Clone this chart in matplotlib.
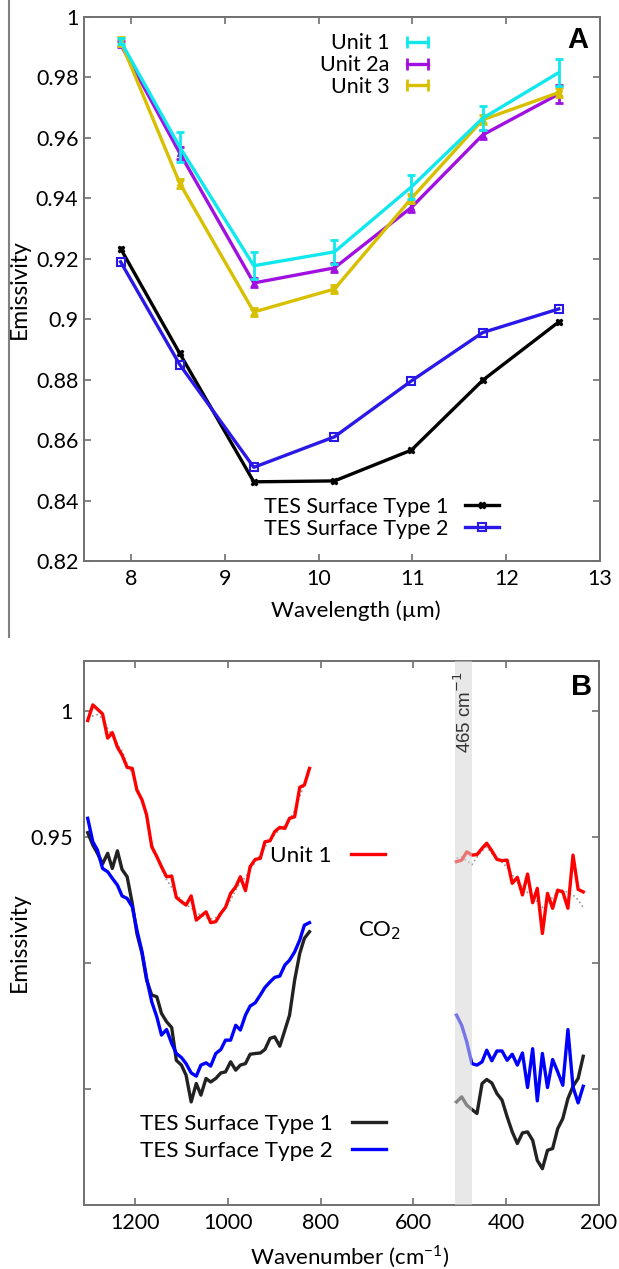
import numpy as np
import matplotlib
matplotlib.use("Agg")
import matplotlib.pyplot as plt
from matplotlib.lines import Line2D
from matplotlib.ticker import FuncFormatter

plt.rcParams['font.family'] = ['Lato', 'DejaVu Sans']

# ---- panel A data (band centres, um) ----
wavelength = [7.89, 8.52, 9.31, 10.17, 10.99, 11.75, 12.56]
unit1 = [0.992, 0.957, 0.9177, 0.9223, 0.9438, 0.9665, 0.9816]
unit1_err = [0.001, 0.005, 0.0045, 0.004, 0.004, 0.004, 0.0045]
unit2a = [0.991, 0.955, 0.912, 0.917, 0.937, 0.961, 0.9745]
unit2a_err = [0.001, 0.002, 0.0015, 0.0015, 0.0015, 0.0015, 0.003]
unit3 = [0.992, 0.945, 0.9024, 0.910, 0.940, 0.966, 0.975]
unit3_err = [0.0015, 0.0015, 0.0012, 0.0012, 0.0015, 0.0015, 0.0015]
tes1_a = [0.9234, 0.8887, 0.8462, 0.8465, 0.8567, 0.8798, 0.8991]
tes2_a = [0.919, 0.885, 0.851, 0.8611, 0.8796, 0.8956, 0.9034]

# ---- panel B data (TES spectra) ----
wn_left = [1302, 1291, 1281, 1270, 1259, 1249, 1238, 1228, 1217, 1206, 1196, 1185,
           1175, 1164, 1153, 1143, 1132, 1121, 1111, 1100, 1090, 1079, 1068, 1058,
           1047, 1037, 1026, 1015, 1005, 994, 983, 973, 962, 952, 941, 930, 920,
           909, 899, 888, 877, 867, 856, 845, 835, 824]
wn_right = [507, 496, 485, 474, 463, 452, 442, 431, 420, 409, 398, 387, 376, 365,
            354, 343, 333, 322, 311, 300, 289, 278, 267, 256, 245, 234]

red_left = [0.9962, 1.0024, 1.0007, 0.9988, 0.9892, 0.9914, 0.9856, 0.9825, 0.9776,
            0.9772, 0.9686, 0.9647, 0.9587, 0.9461, 0.9422, 0.9382, 0.9342, 0.9345,
            0.9260, 0.9243, 0.9230, 0.9266, 0.9170, 0.9186, 0.9203, 0.9160, 0.9164,
            0.9197, 0.9221, 0.9276, 0.9302, 0.9342, 0.9287, 0.9382, 0.9411, 0.9415,
            0.9481, 0.9485, 0.9521, 0.9538, 0.9534, 0.9574, 0.9580, 0.9697, 0.9706,
            0.9772]
red_right = [0.9402, 0.9408, 0.9441, 0.9428, 0.9430, 0.9455, 0.9475, 0.9445, 0.9411,
             0.9406, 0.9408, 0.9316, 0.9340, 0.9270, 0.9353, 0.9239, 0.9296, 0.9117,
             0.9276, 0.9217, 0.9289, 0.9282, 0.9217, 0.9428, 0.9292, 0.9282]
model_left = [0.9975, 0.998, 0.9985, 0.997, 0.993, 0.990, 0.987, 0.984, 0.979, 0.975,
              0.970, 0.965, 0.957, 0.948, 0.942, 0.937, 0.933, 0.930, 0.927, 0.925,
              0.923, 0.922, 0.920, 0.919, 0.918, 0.9175, 0.918, 0.920, 0.922, 0.925,
              0.929, 0.932, 0.934, 0.937, 0.940, 0.943, 0.946, 0.949, 0.951, 0.953,
              0.9545, 0.957, 0.9605, 0.966, 0.971, 0.976]
model_right = [0.9415, 0.942, 0.9405, 0.939, 0.942, 0.9445, 0.946, 0.9435, 0.942,
               0.940, 0.938, 0.935, 0.932, 0.930, 0.928, 0.927, 0.924, 0.922, 0.924,
               0.926, 0.928, 0.929, 0.928, 0.927, 0.925, 0.922]
blue_left = [0.9574, 0.9481, 0.9448, 0.9375, 0.9362, 0.9336, 0.9309, 0.9266, 0.9256,
             0.9223, 0.9131, 0.9045, 0.8939, 0.8846, 0.8786, 0.8714, 0.8736, 0.8681,
             0.8641, 0.8625, 0.8601, 0.8564, 0.8551, 0.8595, 0.8604, 0.8591, 0.8641,
             0.8657, 0.8694, 0.8694, 0.8753, 0.8734, 0.8793, 0.8829, 0.8842, 0.8873,
             0.8903, 0.8925, 0.8943, 0.8948, 0.8992, 0.9011, 0.9044, 0.9091, 0.9150,
             0.9160]
blue_right = [0.8793, 0.8753, 0.8687, 0.8601, 0.8595, 0.8608, 0.8654, 0.8612, 0.8651,
              0.8651, 0.8614, 0.8638, 0.8595, 0.8643, 0.8506, 0.8660, 0.8453, 0.8641,
              0.8506, 0.8617, 0.8568, 0.8515, 0.8736, 0.8508, 0.8445, 0.8511]
black_left = [0.9517, 0.9468, 0.9435, 0.9393, 0.9435, 0.9375, 0.9445, 0.9371, 0.9342,
              0.9237, 0.9117, 0.9038, 0.8932, 0.8873, 0.8866, 0.8800, 0.8767, 0.8744,
              0.8614, 0.8595, 0.8555, 0.8449, 0.8522, 0.8476, 0.8542, 0.8528, 0.8542,
              0.8564, 0.8568, 0.8608, 0.8575, 0.8595, 0.8601, 0.8638, 0.8641, 0.8643,
              0.8657, 0.8701, 0.8707, 0.8670, 0.8734, 0.8793, 0.8932, 0.9038, 0.9098,
              0.9124]
black_right = [0.8449, 0.8469, 0.8436, 0.8419, 0.8403, 0.8522, 0.8538, 0.8524, 0.8482,
               0.8456, 0.8390, 0.8330, 0.8284, 0.8326, 0.8330, 0.8297, 0.8217, 0.8184,
               0.8257, 0.8264, 0.8343, 0.8383, 0.8462, 0.8511, 0.8542, 0.8630]
band = (473, 510)

SPINE = '#707070'
FS = 15.5

fig = plt.figure(figsize=(6.19, 12.69), dpi=100)
axA = fig.add_axes([84/619, 1-561/1269, 516/619, 544/1269])
axB = fig.add_axes([84/619, 1-1205/1269, 515/619, 544/1269])

for ax in (axA, axB):
    for s in ax.spines.values():
        s.set_color(SPINE)
        s.set_linewidth(1.4)
    ax.tick_params(direction='in', top=True, right=True, length=5, width=1.2,
                   color=SPINE, labelsize=FS, pad=6)

# ---------------- Panel A ----------------
axA.plot(wavelength, tes1_a, color='black', lw=2.4, marker='X', ms=5, zorder=3)
axA.plot(wavelength, tes2_a, color='#2a18e8', lw=2.4, marker='s', ms=6,
         mfc='none', mew=1.5, zorder=3)
axA.errorbar(wavelength, unit2a, yerr=unit2a_err, color='#a010e0', lw=2.4,
             elinewidth=2, capsize=3, capthick=2, marker='^', ms=4, zorder=4)
axA.errorbar(wavelength, unit3, yerr=unit3_err, color='#d8c000', lw=2.4,
             elinewidth=2, capsize=3, capthick=2, marker='x', ms=4, mew=2, zorder=5)
axA.errorbar(wavelength, unit1, yerr=unit1_err, color='#10e8ee', lw=2.4,
             elinewidth=2, capsize=3, capthick=2, zorder=6)

axA.set_xlim(7.5, 13)
axA.set_ylim(0.82, 1.0)
axA.set_xticks([8, 9, 10, 11, 12, 13])
axA.set_yticks(np.arange(0.82, 1.001, 0.02))
axA.yaxis.set_major_formatter(FuncFormatter(lambda v, p: '%g' % round(v, 2)))
axA.tick_params(axis='y', pad=4)
axA.set_xlabel('Wavelength (µm)', fontsize=16)
axA.xaxis.set_label_coords(0.527, -0.072)
axA.set_ylabel('Emissivity', fontsize=16.5)
axA.yaxis.set_label_coords(-0.105, 0.5)
axA.text(0.957, 0.958, 'A', transform=axA.transAxes, fontsize=21,
         fontweight='bold', family=['Liberation Sans', 'DejaVu Sans'],
         ha='center', va='center')

hU = [Line2D([], [], color=c, lw=2.4, marker='|', ms=8, mew=2)
      for c in ('#10e8ee', '#a010e0', '#d8c000')]
legU = axA.legend(hU, ['Unit 1', 'Unit 2a', 'Unit 3'], loc='upper right',
                  bbox_to_anchor=(0.680, 0.970), frameon=False, markerfirst=False,
                  numpoints=2, fontsize=FS, handlelength=1.6, handletextpad=0.5,
                  labelspacing=0.08, borderpad=0, borderaxespad=0)
axA.add_artist(legU)
hT = [Line2D([], [], color='black', lw=2.4, marker='X', ms=5),
      Line2D([], [], color='#2a18e8', lw=2.4, marker='s', ms=6, mfc='none', mew=1.5)]
axA.legend(hT, ['TES Surface Type 1', 'TES Surface Type 2'], loc='upper right',
           bbox_to_anchor=(0.804, 0.118), frameon=False, markerfirst=False,
           numpoints=1, fontsize=FS, handlelength=1.55, handletextpad=0.8,
           labelspacing=0.08, borderpad=0, borderaxespad=0)

# left border line of panel A
fig.add_artist(Line2D([9/619, 9/619], [1.0, 1-637/1269], color='#808080', lw=1.5))

# ---------------- Panel B ----------------
axB.plot(wn_left, model_left, color='#999999', ls=':', lw=1.2, zorder=2)
axB.plot(wn_right, model_right, color='#999999', ls=':', lw=1.2, zorder=2)
axB.plot(wn_left, black_left, color='#222222', lw=2.4, zorder=2)
axB.plot(wn_right, black_right, color='#222222', lw=2.4, zorder=2)
axB.plot(wn_left, blue_left, color='#0000ff', lw=2.4, zorder=2)
axB.plot(wn_right, blue_right, color='#0000ff', lw=2.4, zorder=2)
axB.plot(wn_left, red_left, color='#ff0000', lw=2.4, zorder=2)
axB.plot(wn_right, red_right, color='#ff0000', lw=2.4, zorder=2)
axB.axvspan(band[0], band[1], color='#d6d6d6', alpha=0.55, lw=0, zorder=3)
axB.text(sum(band)/2, 0.9995, '465 cm$^{-1}$', rotation=90, ha='center', va='center',
         fontsize=13.5, color='#333333', family=['Liberation Sans', 'DejaVu Sans'],
         zorder=4)
axB.text(672, 0.913, 'CO$_2$', ha='center', va='center', fontsize=16)

axB.set_xlim(1310, 200)
axB.set_ylim(0.804, 1.0198)
axB.set_xticks([1200, 1000, 800, 600, 400, 200])
axB.set_yticks([0.85, 0.9, 0.95, 1.0])
axB.set_yticklabels(['', '', '0.95', '1'])
axB.tick_params(axis='y', pad=8)
axB.set_xlabel('Wavenumber (cm$^{\\mathregular{-1}}$)', fontsize=16)
axB.xaxis.set_label_coords(0.515, -0.071)
axB.set_ylabel('Emissivity', fontsize=16.5)
axB.yaxis.set_label_coords(-0.105, 0.483)
axB.text(0.967, 0.952, 'B', transform=axB.transAxes, fontsize=21,
         fontweight='bold', family=['Liberation Sans', 'DejaVu Sans'],
         ha='center', va='center')

FSB = 16.2
legR = axB.legend([Line2D([], [], color='#ff0000', lw=2.4)], ['Unit 1'],
                  loc='upper right', bbox_to_anchor=(0.584, 0.660), frameon=False,
                  markerfirst=False, fontsize=FSB, handlelength=1.5,
                  handletextpad=0.85, borderpad=0, borderaxespad=0)
axB.add_artist(legR)
axB.legend([Line2D([], [], color='#222222', lw=2.4),
            Line2D([], [], color='#0000ff', lw=2.4)],
           ['TES Surface Type 1', 'TES Surface Type 2'], loc='upper right',
           bbox_to_anchor=(0.586, 0.168), frameon=False, markerfirst=False,
           fontsize=FSB, handlelength=1.5, handletextpad=0.85, labelspacing=0.33,
           borderpad=0, borderaxespad=0)

fig.savefig('out.png', dpi=100)
